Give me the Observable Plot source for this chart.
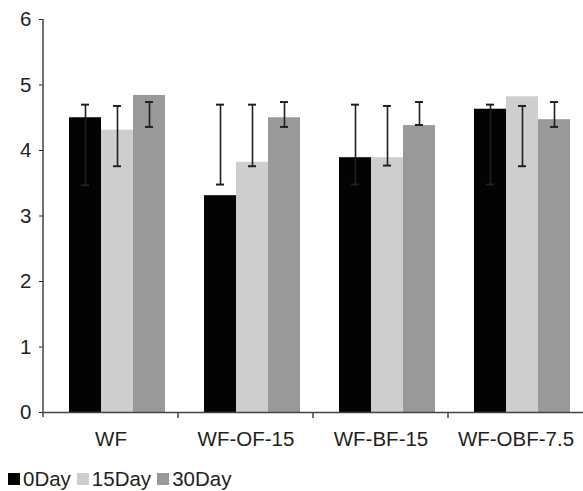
<!DOCTYPE html>
<html>
<head>
<meta charset="utf-8">
<script src="https://cdn.jsdelivr.net/npm/d3@7"></script>
<script src="https://cdn.jsdelivr.net/npm/@observablehq/plot@0.6"></script>
<style>
  html, body { margin: 0; padding: 0; background: #fff; }
  body { width: 583px; height: 491px; overflow: hidden; font-family: "Liberation Sans", Arial, sans-serif; }
  #legend { display: flex; align-items: center; height: 24px; padding-left: 8px; font-size: 20.5px; color: #231f20; line-height: 24px; }
  #legend .item { display: flex; align-items: center; margin-right: 6px; }
  #legend .sw { width: 12px; height: 12px; margin-right: 3px; display: inline-block; }
</style>
</head>
<body>
<div id="chart"></div>
<div id="legend"></div>
<script>
const categories = ["WF", "WF-OF-15", "WF-BF-15", "WF-OBF-7.5"];
const series = ["0Day", "15Day", "30Day"];
const colors = ["#030303", "#cdcecf", "#98999b"];
const yTicks = [0, 1, 2, 3, 4, 5, 6];

const values0  = [4.50, 3.31, 3.89, 4.63];
const values15 = [4.31, 3.82, 3.89, 4.82];
const values30 = [4.84, 4.50, 4.38, 4.47];

const hi0  = [4.70, 4.70, 4.70, 4.70];
const lo0  = [3.47, 3.48, 3.48, 3.48];
const hi15 = [4.68, 4.70, 4.68, 4.68];
const lo15 = [3.76, 3.76, 3.77, 3.76];
const hi30 = [4.74, 4.74, 4.74, 4.74];
const lo30 = [4.36, 4.36, 4.39, 4.36];

const valueSets = [values0, values15, values30];
const hiSets = [hi0, hi15, hi30];
const loSets = [lo0, lo15, lo30];

const data = [];
categories.forEach((c, i) => {
  series.forEach((s, j) => {
    data.push({cat: c, series: s, value: valueSets[j][i], hi: hiSets[j][i], lo: loSets[j][i]});
  });
});

const ink = "#231f20";

const plot = Plot.plot({
  width: 583,
  height: 467,
  marginTop: 19,
  marginBottom: 55,
  marginLeft: 42,
  marginRight: 0,
  style: {fontFamily: "'Liberation Sans', Arial, sans-serif", fontSize: "20.5px", color: ink, background: "#fff"},
  fx: {domain: categories, padding: 0, label: null, axis: "bottom", tickSize: 0, tickPadding: 19},
  x: {domain: series, paddingInner: 0, paddingOuter: 0.55, align: 0.66, axis: null},
  y: {domain: [0, 6], ticks: yTicks, tickSize: 4, tickPadding: 8, label: null, tickFormat: d3.format("d")},
  color: {domain: series, range: colors},
  marks: [
    Plot.barY(data, {fx: "cat", x: "series", y: "value", fill: "series"}),
    Plot.ruleX(data, {fx: "cat", x: "series", y1: "lo", y2: "hi", stroke: ink, strokeWidth: 1.6}),
    Plot.tickY(data, {fx: "cat", x: "series", y: "hi", stroke: ink, strokeWidth: 2, insetLeft: 12, insetRight: 12}),
    Plot.tickY(data, {fx: "cat", x: "series", y: "lo", stroke: ink, strokeWidth: 2, insetLeft: 12, insetRight: 12}),
    Plot.ruleY([0], {stroke: "#444", strokeWidth: 1.5})
  ]
});

// y-axis line and between-category ticks from the library's scales
const svg = d3.select(plot.tagName.toLowerCase() === "svg" ? plot : plot.querySelector("svg"));
const ys = plot.scale("y");
const fxs = plot.scale("fx");
const y0 = ys.apply(0), y6 = ys.apply(6);
const x0 = fxs.apply(categories[0]);
svg.append("line")
  .attr("x1", x0).attr("x2", x0)
  .attr("y1", y6).attr("y2", y0 + 5)
  .attr("stroke", "#444").attr("stroke-width", 1.5);
categories.slice(1).forEach(c => {
  const bx = fxs.apply(c);
  svg.append("line")
    .attr("x1", bx).attr("x2", bx)
    .attr("y1", y0).attr("y2", y0 + 6)
    .attr("stroke", "#444").attr("stroke-width", 1.5);
});

document.getElementById("chart").appendChild(plot);

const legend = document.getElementById("legend");
series.forEach((s, j) => {
  const item = document.createElement("span");
  item.className = "item";
  const sw = document.createElement("span");
  sw.className = "sw";
  sw.style.background = colors[j];
  item.appendChild(sw);
  item.appendChild(document.createTextNode(s));
  legend.appendChild(item);
});
</script>
</body>
</html>
